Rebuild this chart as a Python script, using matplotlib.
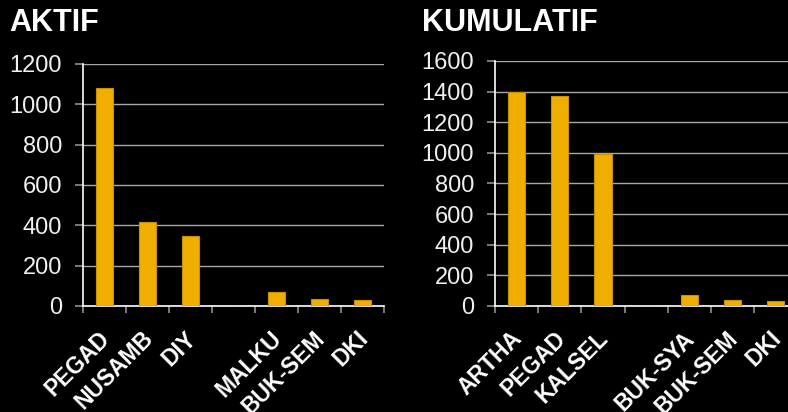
import numpy as np
import matplotlib.pyplot as plt
import matplotlib.transforms as mtransforms

plt.rcParams['font.family'] = ['Liberation Sans', 'DejaVu Sans']

# data
aktif_labels = ['PEGAD', 'NUSAMB', 'DIY', '', 'MALKU', 'BUK-SEM', 'DKI']
aktif_values = [1080, 415, 345, 0, 68, 35, 28]
kum_labels = ['ARTHA', 'PEGAD', 'KALSEL', '', 'BUK-SYA', 'BUK-SEM', 'DKI']
kum_values = [1400, 1372, 990, 0, 70, 41, 33]

bar_color = '#F0AE00'
grid_color = '#a8a8a8'
text_color = '#f0f0f0'

fig = plt.figure(figsize=(7.88, 4.12), dpi=100, facecolor='black')


def draw(ax, labels, values, ymax, step):
    ax.set_facecolor('black')
    n = len(labels)
    x = np.arange(n) + 0.5
    ax.bar(x, values, width=0.4, color=bar_color, edgecolor='#c89000',
           linewidth=0.8, zorder=3)
    ax.set_xlim(0, n)
    ax.set_ylim(0, ymax)
    ax.set_yticks(np.arange(0, ymax + 1, step))
    ax.yaxis.grid(True, color=grid_color, linewidth=1, zorder=0)
    for s in ['top', 'right']:
        ax.spines[s].set_visible(False)
    for s in ['left', 'bottom']:
        ax.spines[s].set_color('white')
        ax.spines[s].set_linewidth(1.2)
    # ticks at category boundaries
    ax.set_xticks(np.arange(0, n + 1))
    ax.set_xticklabels([])
    ax.tick_params(axis='x', which='major', direction='out', length=5,
                   color='#909090', width=1.2)
    ax.tick_params(axis='y', direction='out', length=6, color='#909090',
                   width=1.2, pad=9, labelsize=17, labelcolor=text_color)
    # category labels centred
    ax.set_xticks(x, minor=True)
    ax.set_xticklabels(labels, minor=True, rotation=45, ha='right', va='top',
                       rotation_mode='anchor', fontsize=16.5, fontweight='bold',
                       color='white')
    ax.tick_params(axis='x', which='minor', length=0, pad=15)
    shift = mtransforms.ScaledTranslation(-6 / 100, 0, fig.dpi_scale_trans)
    for lab in ax.get_xticklabels(minor=True):
        lab.set_transform(lab.get_transform() + shift)


ax1 = fig.add_axes([0.1053, 0.2573, 0.382, 0.5874])
draw(ax1, aktif_labels, aktif_values, 1200, 200)
ax2 = fig.add_axes([0.6282, 0.2573, 0.3835, 0.5947])
draw(ax2, kum_labels, kum_values, 1600, 200)

fig.text(0.012, 1 - 31 / 412, 'AKTIF', fontsize=22, fontweight='bold',
         color='white', va='baseline')
fig.text(422 / 788, 1 - 31 / 412, 'KUMULATIF', fontsize=22, fontweight='bold',
         color='white', va='baseline')

fig.savefig('out.png', dpi=100, facecolor='black')
